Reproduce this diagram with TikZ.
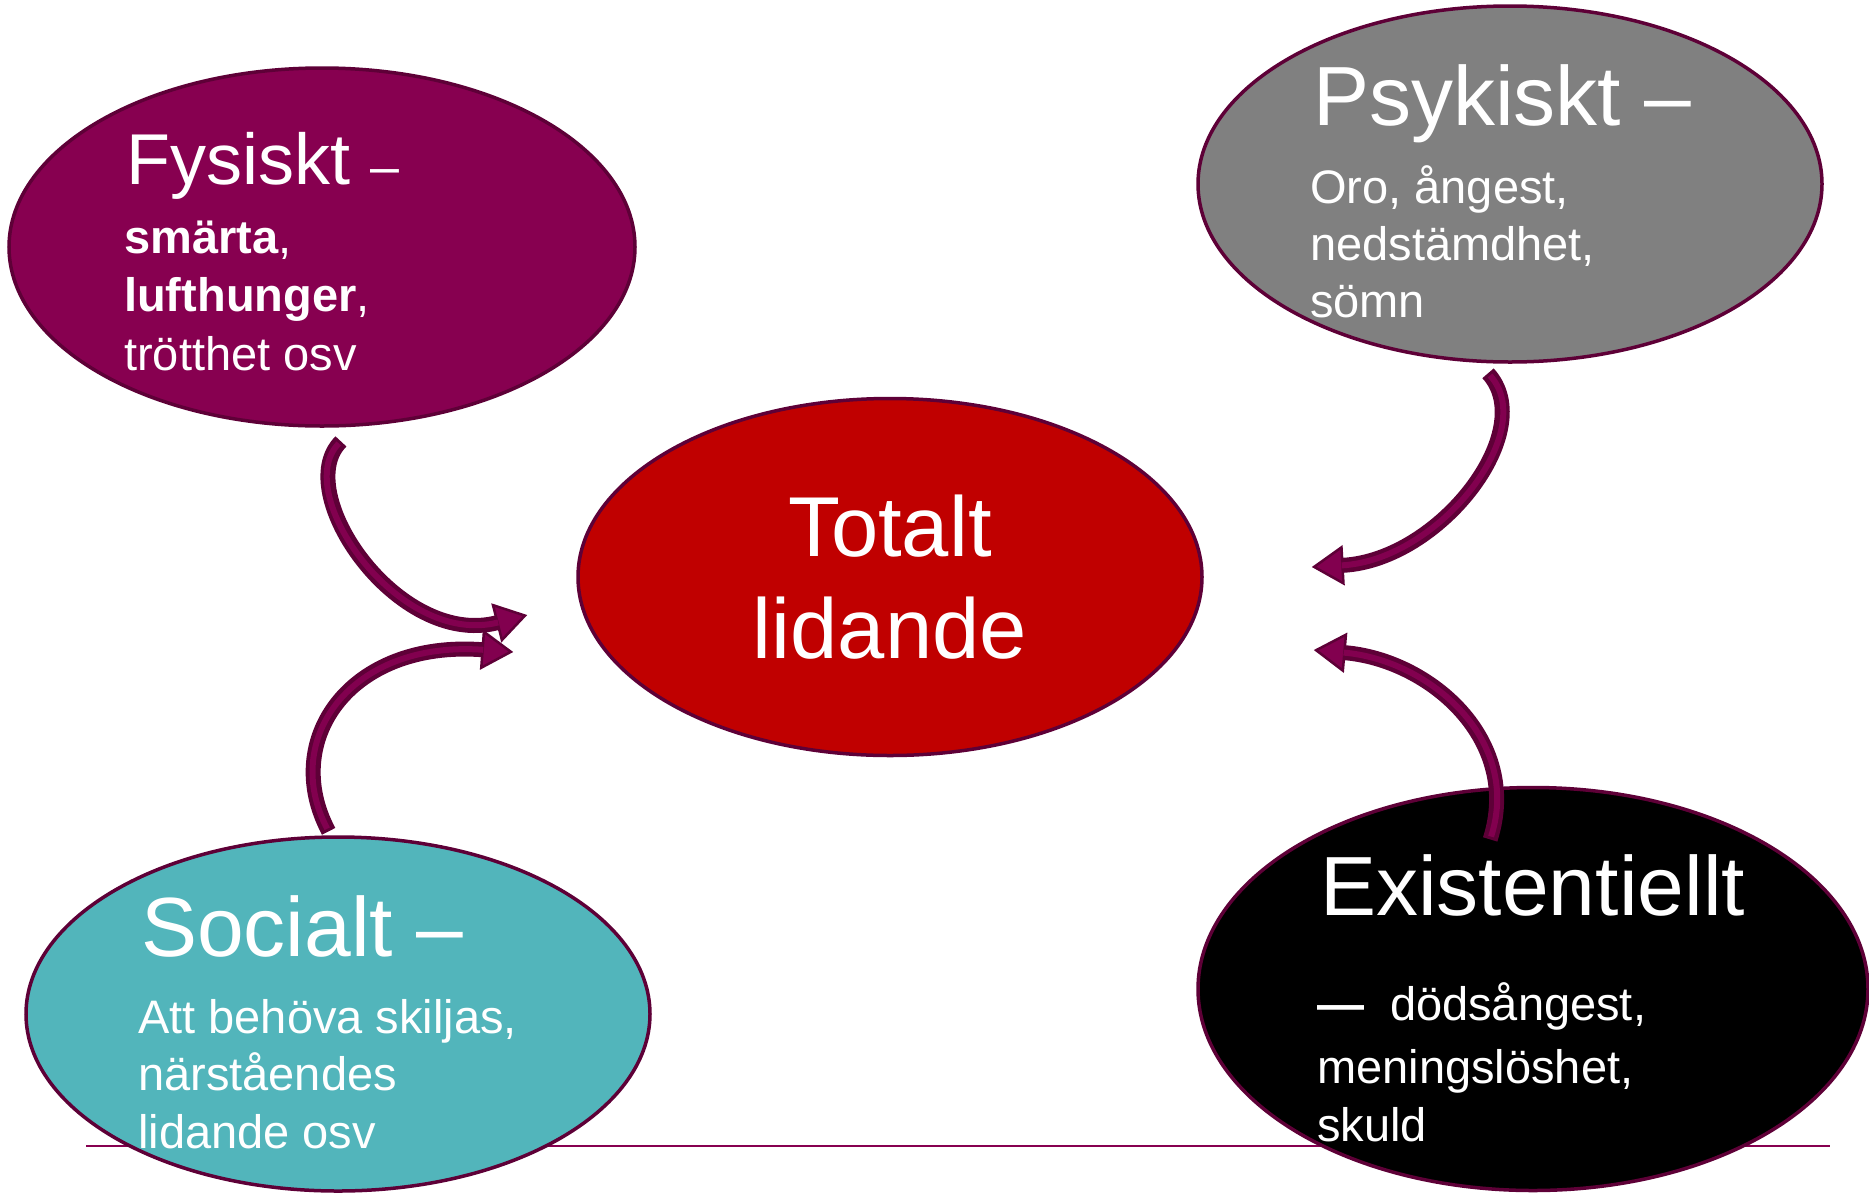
\documentclass[tikz,border=0pt]{standalone}
\usepackage{fontspec}
\setmainfont{Liberation Sans}
\usetikzlibrary{shapes.geometric,arrows.meta}

\definecolor{fysfill}{HTML}{870050}
\definecolor{psyfill}{HTML}{808080}
\definecolor{totfill}{HTML}{C00000}
\definecolor{socfill}{HTML}{52B5BB}
\definecolor{exifill}{HTML}{000000}
\definecolor{rim}{HTML}{5E0037}
\definecolor{arrowfill}{HTML}{82004F}

\newcommand{\titlefont}{\fontsize{84}{101}\selectfont}
\newcommand{\bodyfont}{\fontsize{47}{57.5}\selectfont}

\begin{document}
\begin{tikzpicture}[x=1pt,y=-1pt,
	bubble/.style={ellipse,draw=rim,line width=3.5pt},
	heading/.style={anchor=base west,text=white,font=\titlefont},
	body/.style={anchor=base west,text=white,align=left,font=\bodyfont},
	curvearrow/.style={draw=rim,line width=15pt,-{Triangle[width=40pt,length=32pt,fill=arrowfill,line width=2.5pt]}},
	curvecore/.style={draw=arrowfill,line width=6pt,shorten >=30pt,shorten <=3pt}]
	\tikzstyle{every node}+=[inner sep=0pt]
	\useasboundingbox (0,0) rectangle (1869,1192);
	% bottom rule
	\draw [fysfill,line width=2pt] (86,1146) -- (1830,1146);
	% bubbles
	\node [bubble,fill=fysfill,minimum width=626pt,minimum height=358pt] (fys) at (322,247) {};
	\node [bubble,fill=psyfill,minimum width=624pt,minimum height=356pt] (psy) at (1510,184) {};
	\node [bubble,fill=totfill,minimum width=624pt,minimum height=357pt,text=white,align=center,font=\fontsize{85}{102}\selectfont] (tot) at (890,577) {Totalt\\lidande};
	\node [bubble,fill=socfill,minimum width=624pt,minimum height=354pt] (soc) at (338,1014) {};
	\node [bubble,fill=exifill,minimum width=670pt,minimum height=403pt] (exi) at (1533,989) {};
	% curved arrows
	\draw [curvearrow] ([yshift=-14pt]fys.276) .. controls (290,492) and (398,648) .. ([xshift=-49pt,yshift=-38pt]tot.west);
	\draw [curvecore] ([yshift=-14pt]fys.276) .. controls (290,492) and (398,648) .. ([xshift=-49pt,yshift=-38pt]tot.west);
	\draw [curvearrow] ([yshift=4pt]soc.93) .. controls (280,740) and (350,640) .. ([xshift=-63pt,yshift=-75pt]tot.west);
	\draw [curvecore] ([yshift=4pt]soc.93) .. controls (280,740) and (350,640) .. ([xshift=-63pt,yshift=-75pt]tot.west);
	\draw [curvearrow] ([yshift=-10pt]psy.263) .. controls (1540,430) and (1440,560) .. ([xshift=108pt,yshift=10pt]tot.east);
	\draw [curvecore] ([yshift=-10pt]psy.263) .. controls (1540,430) and (1440,560) .. ([xshift=108pt,yshift=10pt]tot.east);
	\draw [curvearrow] ([yshift=-52pt]exi.102) .. controls (1522,740) and (1430,660) .. ([xshift=110pt,yshift=-73pt]tot.east);
	\draw [curvecore] ([yshift=-52pt]exi.102) .. controls (1522,740) and (1430,660) .. ([xshift=110pt,yshift=-73pt]tot.east);
	% texts (body nodes sit on the baseline of their last line)
	\node [heading,font=\fontsize{72}{86}\selectfont] (fysTitle) at (126,184) {Fysiskt {\fontsize{52}{60}\selectfont –}};
	\node [body,font=\fontsize{47}{58.5}\selectfont] (fysBody) at (124,370) {\textbf{smärta},\\\textbf{lufthunger},\\trötthet osv};
	\node [heading] (psyTitle) at (1313,125) {Psykiskt –};
	\node [body,font=\fontsize{47}{57}\selectfont] (psyBody) at (1310,317) {Oro, ångest,\\nedstämdhet,\\sömn};
	\node [heading] (socTitle) at (141,956) {Socialt –};
	\node [body] (socBody) at (138,1148) {Att behöva skiljas,\\närståendes\\lidande osv};
	\node [heading] (exiTitle) at (1320,915) {Existentiellt};
	\node [body] (exiBody) at (1317,1141) {\textbf{—}\hspace{0.55em}dödsångest,\\[6pt]meningslöshet,\\skuld};
\end{tikzpicture}
\end{document}
